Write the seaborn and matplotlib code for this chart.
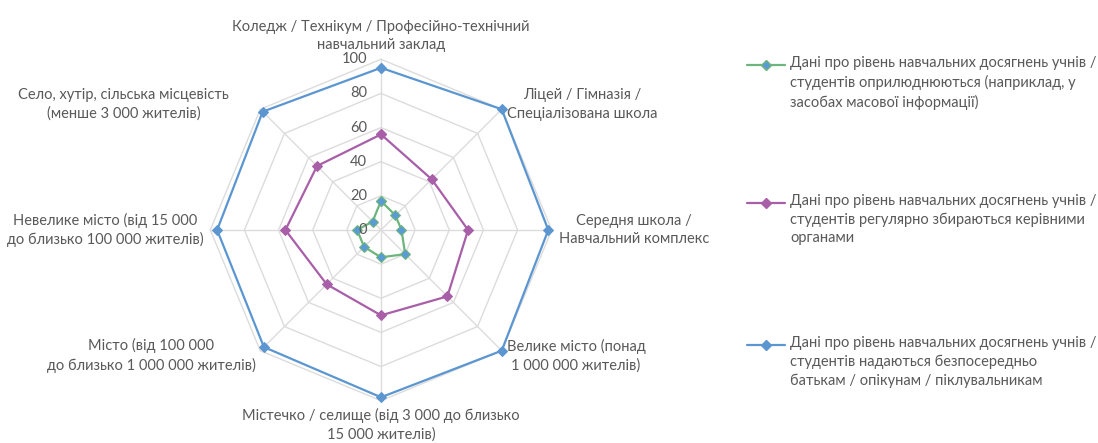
import numpy as np
import pandas as pd
import seaborn as sns
import matplotlib.pyplot as plt
from matplotlib.lines import Line2D

# Categories, clockwise from the top
categories = [
    "Коледж / Технікум / Професійно-технічний\nнавчальний заклад",
    "Ліцей / Гімназія /\nСпеціалізована школа",
    "Середня школа /\nНавчальний комплекс",
    "Велике місто (понад\n1 000 000 жителів)",
    "Містечко / селище (від 3 000 до близько\n15 000 жителів)",
    "Місто (від 100 000\nдо близько 1 000 000 жителів)",
    "Невелике місто (від 15 000\nдо близько 100 000 жителів)",
    "Село, хутір, сільська місцевість\n(менше 3 000 жителів)",
]

series_names = [
    "Дані про рівень навчальних досягнень учнів /\nстудентів оприлюднюються (наприклад, у\nзасобах масової інформації)",
    "Дані про рівень навчальних досягнень учнів /\nстудентів регулярно збираються керівними\nорганами",
    "Дані про рівень навчальних досягнень учнів /\nстудентів надаються безпосередньо\nбатькам / опікунам / піклувальникам",
]

published = [17, 12, 12, 20, 16, 14, 14, 7]
collected = [56, 42, 51, 55, 50, 45, 56, 53]
to_parents = [95, 100, 98, 100, 98, 97, 96, 98]

r_ticks = [0, 20, 40, 60, 80, 100]

colors = ["#6db57c", "#a85fa8", "#5b96d0"]
grid_color = "#dcdcdc"
text_color = "#595959"
fs = 10.5

sns.set_theme(style="white")
plt.rcParams["font.family"] = ["Lato", "DejaVu Sans"]

n = len(categories)
angles = np.arange(n) * 2 * np.pi / n

rows = []
for name, vals in zip(series_names, [published, collected, to_parents]):
    for i in range(n + 1):
        rows.append((name, angles[i % n] + (2 * np.pi if i == n else 0), vals[i % n]))
df = pd.DataFrame(rows, columns=["series", "angle", "value"])

W, H = 1098, 443
fig = plt.figure(figsize=(W / 100, H / 100), dpi=100)
ax = fig.add_axes([0.1915, 0.0955, 0.311, 0.7707], projection="polar")
ax.set_theta_zero_location("N")
ax.set_theta_direction(-1)
ax.set_ylim(0, 100)
ax.grid(False)
ax.spines["polar"].set_visible(False)
ax.set_xticks([])
ax.set_yticks([])

# octagonal grid and spokes
closed = np.append(angles, angles[0])
for r in r_ticks[1:]:
    ax.plot(closed, [r] * (n + 1), color=grid_color, lw=1, zorder=1, clip_on=False)
for a in angles:
    ax.plot([a, a], [0, 100], color=grid_color, lw=1, zorder=1, clip_on=False)

# series, blue drawn first so green ends up on top
for name, c in list(zip(series_names, colors))[::-1]:
    sub = df[df["series"] == name]
    mfc = "#5b9bd5" if c == colors[0] else c
    sns.lineplot(data=sub, x="angle", y="value", ax=ax, sort=False, estimator=None,
                 color=c, lw=1.6, marker="D", markersize=5, markerfacecolor=mfc,
                 markeredgecolor=c, clip_on=False, zorder=3, legend=False)
ax.set_xlabel("")
ax.set_ylabel("")

# radial value labels beside the top spoke
for r in r_ticks:
    ax.annotate(str(r), xy=(0, r), xytext=(-10, 0), textcoords="offset points",
                ha="right", va="center", fontsize=fs, color=text_color)

# category labels
label_r = 104
for a, lab in zip(angles, categories):
    deg = np.degrees(a)
    if np.isclose(deg, 0):
        ha, va = "center", "bottom"
    elif np.isclose(deg, 180):
        ha, va = "center", "top"
    elif deg < 180:
        ha, va = "left", "center"
    else:
        ha, va = "right", "center"
    off = (-19, 0) if np.isclose(deg, 315) else (0, 0)
    ax.annotate(lab, xy=(a, label_r), xytext=off, textcoords="offset points",
                ha=ha, va=va, multialignment="center", fontsize=fs,
                linespacing=1.4, color=text_color, annotation_clip=False)

# legend on the right, handle beside the first line of each entry
legend_y = [65, 203, 345]
for name, c, y in zip(series_names, colors, legend_y):
    mfc = "#5b9bd5" if c == colors[0] else c
    fy = 1 - y / H
    fig.add_artist(Line2D([747 / W, 766 / W, 785 / W], [fy, fy, fy],
                          transform=fig.transFigure, color=c, lw=1.6,
                          marker="D", markersize=5, markevery=[1],
                          markerfacecolor=mfc, markeredgecolor=c))
    fig.text(790 / W, 1 - (y - 9) / H, name, ha="left", va="top",
             fontsize=fs, linespacing=1.4, color=text_color)

fig.savefig("out.png", dpi=100)
